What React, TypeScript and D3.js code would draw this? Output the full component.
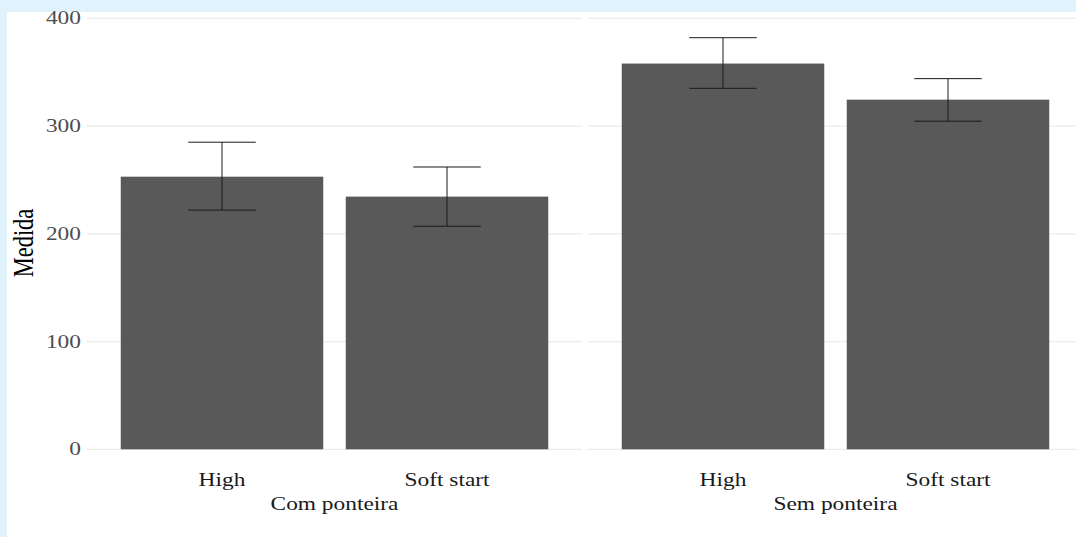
import React from 'react';
import * as d3 from 'd3';

// values
const panels = ['Com ponteira', 'Sem ponteira'];
const categories = ['High', 'Soft start'];
const means = [[253, 234.5], [358, 324.5]];
const lower = [[222, 207], [335, 304.5]];
const upper = [[285, 262], [382, 344]];
const yTicks = [0, 100, 200, 300, 400];

const W = 1076;
const H = 537;
const SX = 1.3; // the picture's text is stretched sideways

export default function App() {
  const y = d3.scaleLinear().domain([0, 400]).range([449.3, 18.3]);

  const facet = d3.scaleBand()
    .domain(panels)
    .range([87, 1083])
    .paddingInner(6 / 501);

  const x = d3.scaleBand()
    .domain(categories)
    .range([0, facet.bandwidth()])
    .paddingInner(0.1)
    .paddingOuter(0.15);

  const errW = x.step() * 0.3;

  return (
    <svg width={W} height={H} style={{ position: 'absolute', left: 0, top: 0 }}
      fontFamily="'Liberation Serif', 'Times New Roman', serif">
      <rect x={0} y={0} width={W} height={H} fill="#e0f2fc" />
      <rect x={7} y={12} width={W - 7} height={H - 12} fill="#ffffff" />

      {/* y tick labels */}
      {yTicks.map((t) => (
        <text key={t} transform={`translate(81,${y(t)}) scale(${SX},1)`}
          textAnchor="end" dominantBaseline="central" fontSize={18} fill="#4d4d4d">
          {t}
        </text>
      ))}

      <text transform={`translate(33,243) scale(${SX},1) rotate(-90)`}
        textAnchor="middle" fontSize={22.5} fill="#000">Medida</text>

      {panels.map((p, pi) => {
        const x0 = facet(p) as number;
        return (
          <g key={p} transform={`translate(${x0},0)`}>
            {yTicks.map((t) => (
              <line key={t} x1={0} x2={facet.bandwidth()} y1={y(t)} y2={y(t)}
                stroke="#ebebeb" strokeWidth={1.2} />
            ))}
            {categories.map((c, ci) => {
              const bx = x(c) as number;
              const cx = bx + x.bandwidth() / 2;
              return (
                <g key={c}>
                  <rect x={bx} y={y(means[pi][ci])} width={x.bandwidth()}
                    height={y(0) - y(means[pi][ci])} fill="#595959" />
                  <line x1={cx} x2={cx} y1={y(upper[pi][ci])} y2={y(lower[pi][ci])}
                    stroke="#1a1a1a" strokeWidth={1} />
                  <line x1={cx - errW / 2} x2={cx + errW / 2} y1={y(upper[pi][ci])} y2={y(upper[pi][ci])}
                    stroke="#1a1a1a" strokeWidth={1} />
                  <line x1={cx - errW / 2} x2={cx + errW / 2} y1={y(lower[pi][ci])} y2={y(lower[pi][ci])}
                    stroke="#1a1a1a" strokeWidth={1} />
                  <text transform={`translate(${cx},486) scale(${SX},1)`}
                    textAnchor="middle" fontSize={18} fill="#1a1a1a">{c}</text>
                </g>
              );
            })}
            <text transform={`translate(${facet.bandwidth() / 2},510) scale(${SX},1)`}
              textAnchor="middle" fontSize={18} fill="#1a1a1a">{p}</text>
          </g>
        );
      })}
    </svg>
  );
}
